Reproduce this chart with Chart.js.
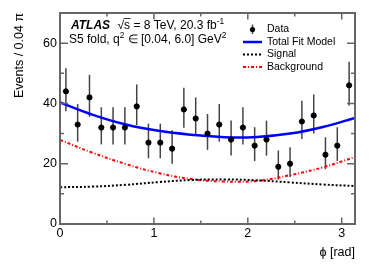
<!DOCTYPE html>
<html>
<head>
<meta charset="utf-8">
<script src="https://cdn.jsdelivr.net/npm/chart.js@4.4.1/dist/chart.umd.min.js"></script>
<style>
  html, body { margin: 0; padding: 0; background: #fff; }
</style>
</head>
<body>
<canvas id="phiChart" width="374" height="268"></canvas>
<script>
// Events per 0.04*pi bin in phi
var binCenters = [0.063, 0.188, 0.314, 0.440, 0.565, 0.691, 0.817, 0.942, 1.068, 1.194,
                  1.319, 1.445, 1.571, 1.696, 1.822, 1.948, 2.073, 2.199, 2.325, 2.450,
                  2.576, 2.702, 2.827, 2.953, 3.079];
var events = [44, 33, 42, 32, 32, 32, 39, 27, 27, 25, 38, 35, 30, 33, 28, 32, 26, 28, 19, 20, 34, 36, 23, 26, 46];
var errUp = [7.7, 6.8, 7.5, 6.7, 6.7, 6.7, 7.3, 6.3, 6.3, 6.1, 7.2, 7.0, 6.5, 6.8, 6.3, 6.7, 6.1, 6.3, 5.4, 5.5, 6.9, 7.0, 5.8, 6.1, 7.8];
var errDown = [6.6, 5.7, 6.4, 5.6, 5.6, 5.6, 6.2, 5.2, 5.2, 5.0, 6.1, 5.9, 5.4, 5.7, 5.3, 5.6, 5.1, 5.3, 4.3, 4.4, 5.8, 6.0, 4.8, 5.1, 6.7];

var curveX = [0, 0.35, 0.70, 1.05, 1.40, 1.75, 2.10, 2.45, 2.80, 3.1416];
var totalFit = [40.3, 36.2, 33.0, 30.9, 29.6, 28.8, 28.9, 30.0, 32.2, 35.2];
var signal = [12.2, 12.4, 13.0, 13.9, 14.6, 14.8, 14.5, 13.8, 13.1, 12.6];
var background = [27.9, 23.6, 19.9, 16.9, 14.9, 14.1, 14.3, 16.2, 18.8, 22.2];

var xTicksMinor = [0.5, 1.5, 2.5];
var yTicksMinor = [10, 30, 50];

var FONT = 'Liberation Sans, Arial, Helvetica, sans-serif';

function toXY(xs, ys) {
    return xs.map(function (v, i) { return { x: v, y: ys[i] }; });
}

// draws a run of text pieces, some raised as superscripts
function drawRich(ctx, parts, x, y, size) {
    var cx = x;
    parts.forEach(function (p) {
        var fs = p.sup ? size * 0.7 : size;
        ctx.font = (p.style || '') + ' ' + fs + 'px ' + FONT;
        ctx.fillText(p.t, cx, p.sup ? y - size * 0.38 : y);
        cx += ctx.measureText(p.t).width;
    });
    return cx;
}

var errorBars = {
    id: 'errorBars',
    beforeDatasetsDraw: function (chart) {
        var ctx = chart.ctx, x = chart.scales.x, y = chart.scales.y;
        ctx.save();
        ctx.strokeStyle = '#444';
        ctx.lineWidth = 1.5;
        for (var i = 0; i < binCenters.length; i++) {
            var px = x.getPixelForValue(binCenters[i]);
            ctx.beginPath();
            ctx.moveTo(px, y.getPixelForValue(events[i] - errDown[i]));
            ctx.lineTo(px, y.getPixelForValue(events[i] + errUp[i]));
            ctx.stroke();
        }
        ctx.restore();
    }
};

// ROOT style frame with ticks pointing inwards on all four sides
var frameTicks = {
    id: 'frameTicks',
    afterDatasetsDraw: function (chart) {
        var ctx = chart.ctx, a = chart.chartArea, x = chart.scales.x, y = chart.scales.y;
        ctx.save();
        ctx.strokeStyle = '#666';
        ctx.lineWidth = 1.5;
        ctx.beginPath();
        x.ticks.forEach(function (t) {
            var px = x.getPixelForValue(t.value);
            ctx.moveTo(px, a.bottom); ctx.lineTo(px, a.bottom - 6.5);
            ctx.moveTo(px, a.top); ctx.lineTo(px, a.top + 6.5);
        });
        xTicksMinor.forEach(function (v) {
            var px = x.getPixelForValue(v);
            ctx.moveTo(px, a.bottom); ctx.lineTo(px, a.bottom - 3.5);
            ctx.moveTo(px, a.top); ctx.lineTo(px, a.top + 3.5);
        });
        y.ticks.forEach(function (t) {
            var py = y.getPixelForValue(t.value);
            ctx.moveTo(a.left, py); ctx.lineTo(a.left + 8, py);
            ctx.moveTo(a.right, py); ctx.lineTo(a.right - 8, py);
        });
        yTicksMinor.forEach(function (v) {
            var py = y.getPixelForValue(v);
            ctx.moveTo(a.left, py); ctx.lineTo(a.left + 4, py);
            ctx.moveTo(a.right, py); ctx.lineTo(a.right - 4, py);
        });
        ctx.stroke();
        ctx.lineWidth = 2;
        ctx.strokeRect(a.left, a.top, a.right - a.left, a.bottom - a.top);
        ctx.restore();
    }
};

var labels = {
    id: 'atlasLabels',
    afterDraw: function (chart) {
        var ctx = chart.ctx;
        ctx.save();
        ctx.fillStyle = '#000';
        ctx.textBaseline = 'middle';
        ctx.textAlign = 'left';

        // ATLAS label
        ctx.font = 'italic bold 12px ' + FONT;
        ctx.fillText('ATLAS', 71, 26);
        var sx = 117.5;
        ctx.font = '12px ' + FONT;
        ctx.fillText('\u221A', sx, 26);
        var rw = ctx.measureText('\u221A').width;
        var sw = ctx.measureText('s').width;
        ctx.strokeStyle = '#000';
        ctx.lineWidth = 0.8;
        ctx.beginPath();
        ctx.moveTo(sx + rw - 0.5, 18.5);
        ctx.lineTo(sx + rw + sw + 0.5, 18.5);
        ctx.stroke();
        drawRich(ctx, [{ t: 's = 8 TeV, 20.3 fb' }, { t: '-1', sup: true }], sx + rw, 26, 12);
        drawRich(ctx, [{ t: 'S5 fold, q' }, { t: '2', sup: true },
                       { t: ' \u2208 [0.04, 6.0] GeV' }, { t: '2', sup: true }], 69, 40, 12);

        // legend
        var lx0 = 243, lx1 = 262, tx = 267;
        ctx.font = '10.5px ' + FONT;
        ctx.fillText('Data', tx, 29.5);
        ctx.fillText('Total Fit Model', tx, 42);
        ctx.fillText('Signal', tx, 54.5);
        ctx.fillText('Background', tx, 67);

        ctx.strokeStyle = '#444';
        ctx.lineWidth = 1.5;
        ctx.beginPath();
        ctx.moveTo(252.5, 24.5); ctx.lineTo(252.5, 34);
        ctx.stroke();
        ctx.fillStyle = '#000';
        ctx.beginPath();
        ctx.arc(252.5, 29.5, 2.6, 0, 2 * Math.PI);
        ctx.fill();

        ctx.lineWidth = 2.5;
        ctx.strokeStyle = '#0000ff';
        ctx.beginPath(); ctx.moveTo(lx0, 42); ctx.lineTo(lx1, 42); ctx.stroke();
        ctx.lineWidth = 2;
        ctx.strokeStyle = '#000';
        ctx.setLineDash([2, 2]);
        ctx.beginPath(); ctx.moveTo(lx0, 54.5); ctx.lineTo(lx1, 54.5); ctx.stroke();
        ctx.strokeStyle = '#ff0000';
        ctx.setLineDash([3, 2, 1, 2]);
        ctx.beginPath(); ctx.moveTo(lx0, 67); ctx.lineTo(lx1, 67); ctx.stroke();
        ctx.restore();
    }
};

new Chart(document.getElementById('phiChart').getContext('2d'), {
    type: 'scatter',
    data: {
        datasets: [
            {
                label: 'Data',
                data: toXY(binCenters, events),
                backgroundColor: '#000',
                borderColor: '#000',
                pointRadius: 2.6,
                showLine: false,
            },
            {
                label: 'Total Fit Model',
                data: toXY(curveX, totalFit),
                borderColor: '#0000ff',
                borderWidth: 2.5,
                pointRadius: 0,
                showLine: true,
                tension: 0.4,
            },
            {
                label: 'Signal',
                data: toXY(curveX, signal),
                borderColor: '#000',
                borderWidth: 2,
                borderDash: [2, 2],
                pointRadius: 0,
                showLine: true,
                tension: 0.4,
            },
            {
                label: 'Background',
                data: toXY(curveX, background),
                borderColor: '#ff0000',
                borderWidth: 2,
                borderDash: [3, 2, 1, 2],
                pointRadius: 0,
                showLine: true,
                tension: 0.4,
            },
        ],
    },
    plugins: [errorBars, frameTicks, labels],
    options: {
        responsive: false,
        animation: false,
        devicePixelRatio: 1,
        layout: { padding: { left: 0, right: 19, top: 13, bottom: 0 } },
        plugins: {
            legend: { display: false },
            tooltip: { enabled: false },
        },
        scales: {
            x: {
                type: 'linear',
                min: 0,
                max: Math.PI,
                afterFit: function (s) { s.height = 44; },
                grid: { display: false, drawTicks: false },
                border: { display: false },
                ticks: {
                    stepSize: 1,
                    includeBounds: false,
                    padding: 2,
                    color: '#000',
                    font: { size: 12.5, family: FONT },
                },
                title: {
                    display: true,
                    text: '\u03D5 [rad]',
                    align: 'end',
                    color: '#000',
                    font: { size: 12.5, family: FONT },
                    padding: { top: 0, bottom: 7.5 },
                },
            },
            y: {
                type: 'linear',
                min: 0,
                max: 70,
                afterFit: function (s) { s.width = 60; },
                grid: { display: false, drawTicks: false },
                border: { display: false },
                ticks: {
                    stepSize: 20,
                    includeBounds: false,
                    padding: 3,
                    color: '#000',
                    font: { size: 12.5, family: FONT },
                },
                title: {
                    display: true,
                    text: 'Events / 0.04 \u03C0',
                    align: 'end',
                    color: '#000',
                    font: { size: 12.5, family: FONT },
                    padding: { top: 12.5, bottom: 0 },
                },
            },
        },
    },
});
</script>
</body>
</html>
